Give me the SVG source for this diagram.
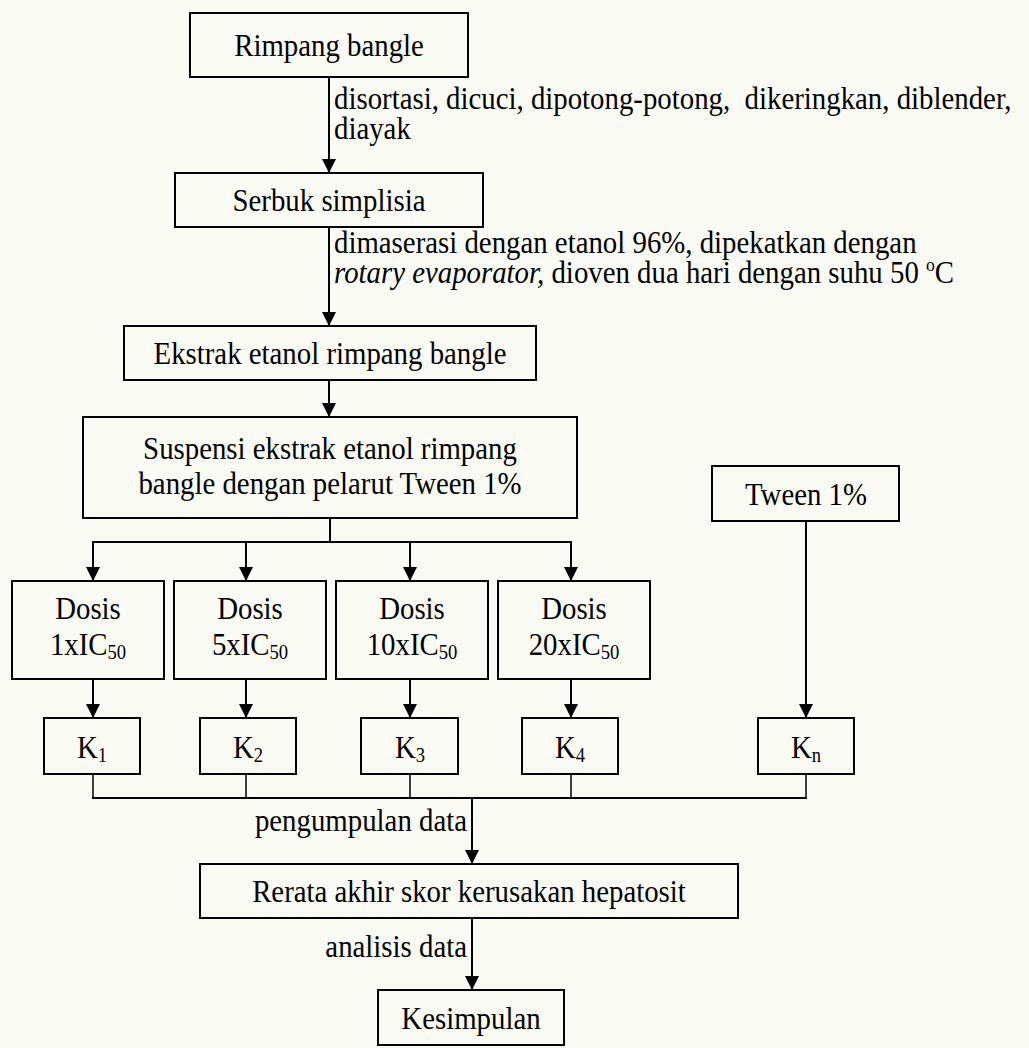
<svg xmlns="http://www.w3.org/2000/svg" width="1029" height="1048" viewBox="0 0 1029 1048">
<style>
.box{fill:none;stroke:#000;stroke-width:2}
.t{font-family:"Liberation Serif","Times New Roman",serif;font-size:31px;fill:#000}
.c{text-anchor:middle}
.e{text-anchor:end}
.ln{fill:none;stroke:#000;stroke-width:2}
.thin{fill:none;stroke:#000;stroke-width:1.5}
.arr{fill:none;stroke:#000;stroke-width:2;marker-end:url(#ah)}
</style>
<defs>
<marker id="ah" markerUnits="userSpaceOnUse" markerWidth="14" markerHeight="14" refX="14" refY="7" orient="auto">
<path d="M0,0 L14,7 L0,14 z" fill="#000"/>
</marker>
</defs>
<rect x="0" y="0" width="1029" height="1048" fill="#fbfbf6"/>

<g id="connectors">
<line class="arr" x1="329" y1="77" x2="329" y2="173"/>
<line class="arr" x1="329" y1="227" x2="329" y2="326"/>
<line class="arr" x1="329" y1="380" x2="329" y2="417"/>
<polyline class="ln" points="330,518 330,542"/>
<line class="ln" x1="92" y1="542" x2="572" y2="542"/>
<line class="arr" x1="93" y1="542" x2="93" y2="581"/>
<line class="arr" x1="246" y1="542" x2="246" y2="581"/>
<line class="arr" x1="410" y1="542" x2="410" y2="581"/>
<line class="arr" x1="571" y1="542" x2="571" y2="581"/>
<line class="arr" x1="93" y1="679" x2="93" y2="718"/>
<line class="arr" x1="246" y1="679" x2="246" y2="718"/>
<line class="arr" x1="410" y1="679" x2="410" y2="718"/>
<line class="arr" x1="571" y1="679" x2="571" y2="718"/>
<line class="arr" x1="806" y1="521" x2="806" y2="718"/>
<line class="thin" x1="93" y1="774" x2="93" y2="798"/>
<line class="thin" x1="246" y1="774" x2="246" y2="798"/>
<line class="thin" x1="410" y1="774" x2="410" y2="798"/>
<line class="thin" x1="571" y1="774" x2="571" y2="798"/>
<line class="thin" x1="806" y1="774" x2="806" y2="798"/>
<line class="ln" x1="92" y1="798" x2="807" y2="798"/>
<line class="arr" x1="472" y1="798" x2="472" y2="864"/>
<line class="arr" x1="472" y1="918" x2="472" y2="990"/>
<text class="t" transform="matrix(.93,0,0,1,334,109)" xml:space="preserve">disortasi, dicuci, dipotong-potong,  dikeringkan, diblender,</text>
<text class="t" transform="matrix(.93,0,0,1,334,139)">diayak</text>
<text class="t" transform="matrix(.93,0,0,1,334,253)">dimaserasi dengan etanol 96%, dipekatkan dengan</text>
<text class="t" transform="matrix(.93,0,0,1,334,283)"><tspan font-style="italic">rotary evaporator,</tspan> dioven dua hari dengan suhu 50 <tspan font-size="19" dy="-12">o</tspan><tspan dy="12">C</tspan></text>
<text class="t e" transform="matrix(.93,0,0,1,467,831)">pengumpulan data</text>
<text class="t e" transform="matrix(.93,0,0,1,467,957)">analisis data</text>
</g>

<g id="n1"><rect class="box" x="190" y="13" width="278" height="64"/><text class="t c" transform="matrix(.93,0,0,1,329,56)">Rimpang bangle</text></g>
<g id="n2"><rect class="box" x="175" y="173" width="308" height="54"/><text class="t c" transform="matrix(.93,0,0,1,329,211)">Serbuk simplisia</text></g>
<g id="n3"><rect class="box" x="124" y="326" width="412" height="54"/><text class="t c" transform="matrix(.93,0,0,1,330,364)">Ekstrak etanol rimpang bangle</text></g>
<g id="n4"><rect class="box" x="83" y="417" width="494" height="101"/><text class="t c" transform="matrix(.93,0,0,1,330,459)">Suspensi ekstrak etanol rimpang</text><text class="t c" transform="matrix(.93,0,0,1,330,494)">bangle dengan pelarut Tween 1%</text></g>
<g id="n5"><rect class="box" x="712" y="466" width="187" height="55"/><text class="t c" transform="matrix(.93,0,0,1,806,505)">Tween 1%</text></g>

<g id="d1"><rect class="box" x="12" y="581" width="152" height="98"/><text class="t c" transform="matrix(.93,0,0,1,88,619)">Dosis</text><text class="t c" transform="matrix(.93,0,0,1,88,655)">1xIC<tspan font-size="20" dy="4">50</tspan></text></g>
<g id="d2"><rect class="box" x="174" y="581" width="152" height="98"/><text class="t c" transform="matrix(.93,0,0,1,250,619)">Dosis</text><text class="t c" transform="matrix(.93,0,0,1,250,655)">5xIC<tspan font-size="20" dy="4">50</tspan></text></g>
<g id="d3"><rect class="box" x="336" y="581" width="152" height="98"/><text class="t c" transform="matrix(.93,0,0,1,412,619)">Dosis</text><text class="t c" transform="matrix(.93,0,0,1,412,655)">10xIC<tspan font-size="20" dy="4">50</tspan></text></g>
<g id="d4"><rect class="box" x="498" y="581" width="152" height="98"/><text class="t c" transform="matrix(.93,0,0,1,574,619)">Dosis</text><text class="t c" transform="matrix(.93,0,0,1,574,655)">20xIC<tspan font-size="20" dy="4">50</tspan></text></g>

<g id="k1"><rect class="box" x="44" y="718" width="96" height="56"/><text class="t c" transform="matrix(.93,0,0,1,92,758)">K<tspan font-size="20" dy="4">1</tspan></text></g>
<g id="k2"><rect class="box" x="200" y="718" width="96" height="56"/><text class="t c" transform="matrix(.93,0,0,1,248,758)">K<tspan font-size="20" dy="4">2</tspan></text></g>
<g id="k3"><rect class="box" x="361" y="718" width="97" height="56"/><text class="t c" transform="matrix(.93,0,0,1,410,758)">K<tspan font-size="20" dy="4">3</tspan></text></g>
<g id="k4"><rect class="box" x="522" y="718" width="96" height="56"/><text class="t c" transform="matrix(.93,0,0,1,570,758)">K<tspan font-size="20" dy="4">4</tspan></text></g>
<g id="kn"><rect class="box" x="758" y="718" width="96" height="56"/><text class="t c" transform="matrix(.93,0,0,1,806,758)">K<tspan font-size="20" dy="4">n</tspan></text></g>

<g id="n6"><rect class="box" x="200" y="864" width="538" height="54"/><text class="t c" transform="matrix(.93,0,0,1,469,902)">Rerata akhir skor kerusakan hepatosit</text></g>
<g id="n7"><rect class="box" x="378" y="990" width="186" height="55"/><text class="t c" transform="matrix(.93,0,0,1,471,1029)">Kesimpulan</text></g>
</svg>
